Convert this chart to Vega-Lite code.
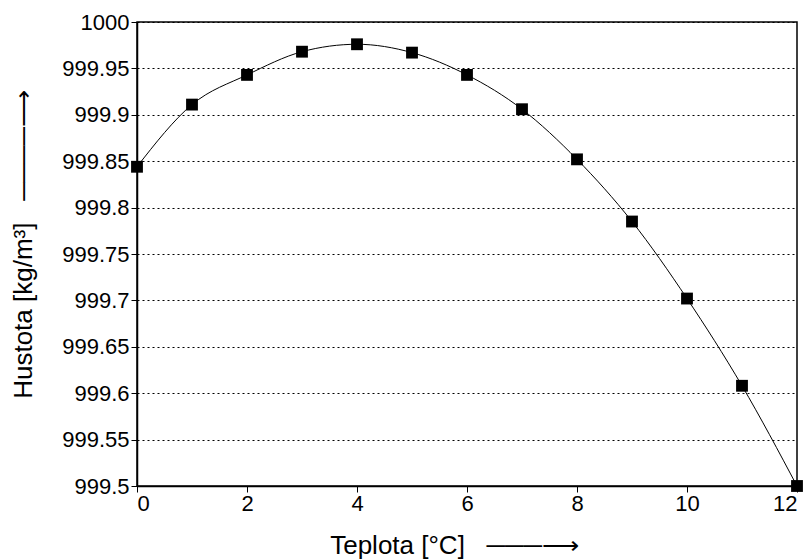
{
  "$schema": "https://vega.github.io/schema/vega-lite/v6.json",
  "width": 660,
  "height": 464,
  "autosize": {"type": "none"},
  "padding": {"left": 137, "top": 22, "right": 15, "bottom": 74},
  "background": "white",
  "config": {
    "view": {"stroke": "black", "strokeWidth": 1.5},
    "font": "Liberation Sans"
  },
  "data": {
    "values": [
      {"t": 0, "rho": 999.844},
      {"t": 1, "rho": 999.911},
      {"t": 2, "rho": 999.943},
      {"t": 3, "rho": 999.968},
      {"t": 4, "rho": 999.976},
      {"t": 5, "rho": 999.967},
      {"t": 6, "rho": 999.943},
      {"t": 7, "rho": 999.906},
      {"t": 8, "rho": 999.852},
      {"t": 9, "rho": 999.785},
      {"t": 10, "rho": 999.702},
      {"t": 11, "rho": 999.608},
      {"t": 12, "rho": 999.5}
    ]
  },
  "encoding": {
    "x": {
      "field": "t",
      "type": "quantitative",
      "scale": {"domain": [0, 12], "nice": false, "zero": false},
      "axis": {
        "values": [0, 2, 4, 6, 8, 10, 12],
        "grid": false,
        "domainColor": "black",
        "domainWidth": 1.5,
        "tickColor": "black",
        "tickSize": 6,
        "labelFontSize": 22,
        "labelColor": "black",
        "labelPadding": 1,
        "title": "Teplota [°C]\u00a0\u00a0\u00a0───⟶",
        "titleFontSize": 26,
        "titleFontWeight": "normal",
        "titleColor": "black",
        "titleX": 317,
        "titleY": 59,
        "titleBaseline": "middle",
        "titleAlign": "center"
      }
    },
    "y": {
      "field": "rho",
      "type": "quantitative",
      "scale": {"domain": [999.5, 1000], "nice": false, "zero": false},
      "axis": {
        "values": [999.5, 999.55, 999.6, 999.65, 999.7, 999.75, 999.8, 999.85, 999.9, 999.95, 1000],
        "format": ".5~r",
        "grid": true,
        "gridColor": "black",
        "gridDash": [2, 3],
        "gridWidth": 1,
        "domainColor": "black",
        "domainWidth": 1.5,
        "tickColor": "black",
        "tickSize": 6,
        "labelFontSize": 22,
        "labelColor": "black",
        "labelPadding": 2,
        "title": "Hustota [kg/m³]\u00a0\u00a0\u00a0────⟶",
        "titleFontSize": 26,
        "titleFontWeight": "normal",
        "titleColor": "black",
        "titleAngle": -90,
        "titleX": -114,
        "titleY": 222,
        "titleBaseline": "middle",
        "titleAlign": "center"
      }
    }
  },
  "layer": [
    {
      "mark": {"type": "line", "interpolate": "monotone", "color": "black", "strokeWidth": 1}
    },
    {
      "mark": {"type": "square", "size": 140, "filled": true, "color": "black", "opacity": 1}
    }
  ]
}
